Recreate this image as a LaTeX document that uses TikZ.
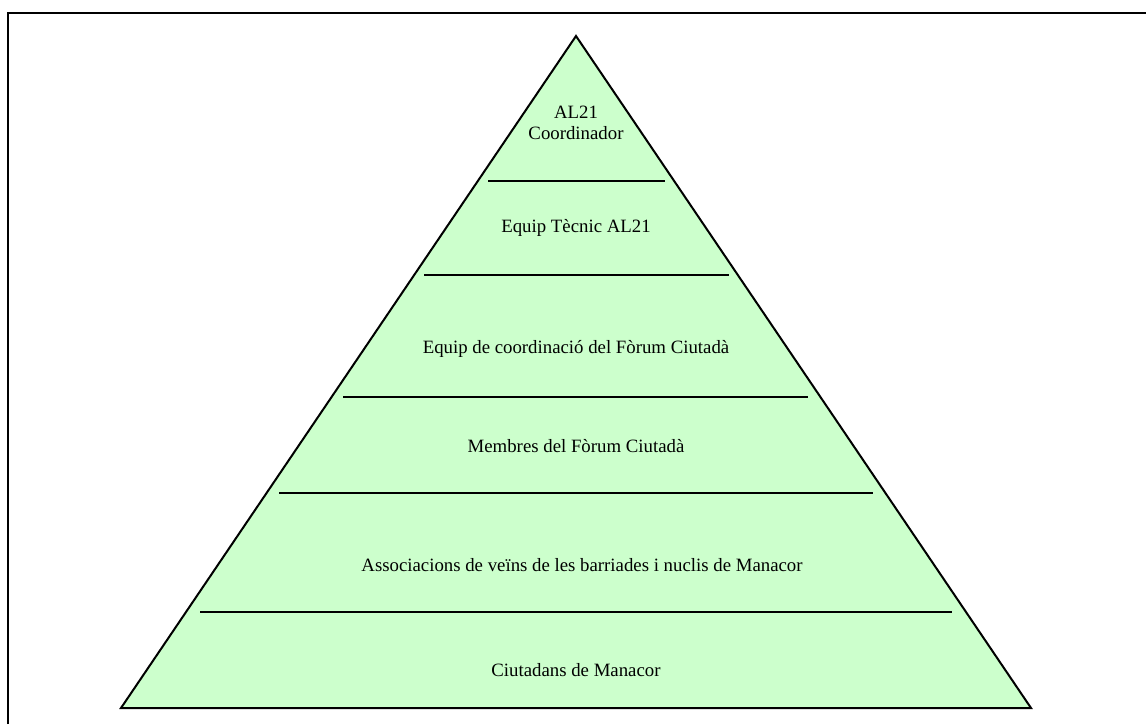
\documentclass[tikz,border=0pt]{standalone}
\usepackage{fontspec}
\setmainfont{Liberation Serif}
\definecolor{pyr}{HTML}{CCFFCC}
\begin{document}
\begin{tikzpicture}[x=1pt,y=-1pt,
  lbl/.style={font=\fontsize{18.8}{21}\selectfont, align=center, inner sep=0pt},
  sep/.style={line width=2pt}]
\useasboundingbox (0,0) rectangle (1146,724);
\draw[line width=2pt] (8,724) -- (8,13) -- (1146,13);
\coordinate (apex) at (576,36);
\coordinate (bl) at (121,708);
\coordinate (br) at (1031,708);
\draw[line width=2pt, fill=pyr, line join=miter] (apex) -- (br) -- (bl) -- cycle;
\coordinate (a1) at (488,181); \coordinate (b1) at (665,181);
\coordinate (a2) at (424,275); \coordinate (b2) at (729,275);
\coordinate (a3) at (343,397); \coordinate (b3) at (808,397);
\coordinate (a4) at (279,493); \coordinate (b4) at (873,493);
\coordinate (a5) at (200,612); \coordinate (b5) at (952,612);
\draw[sep] (a1) -- (b1);
\draw[sep] (a2) -- (b2);
\draw[sep] (a3) -- (b3);
\draw[sep] (a4) -- (b4);
\draw[sep] (a5) -- (b5);
\node[lbl] (t1) at (576,123) {AL21\\Coordinador};
\node[lbl] (t2) at (576,228) {Equip Tècnic AL21};
\node[lbl] (t3) at (576,349) {Equip de coordinació del Fòrum Ciutadà};
\node[lbl] (t4) at (576,446) {Membres del Fòrum Ciutadà};
\node[lbl] (t5) at (582,565) {Associacions de veïns de les barriades i nuclis de Manacor};
\node[lbl] (t6) at (576,670) {Ciutadans de Manacor};
\end{tikzpicture}
\end{document}
